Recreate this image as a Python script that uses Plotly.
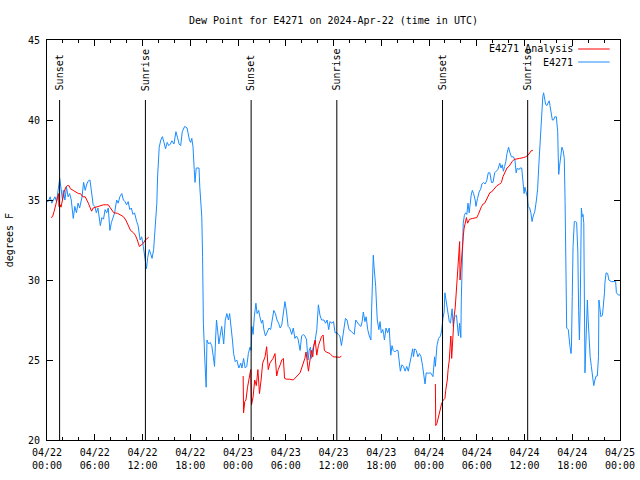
import pandas as pd
import plotly.graph_objects as go

BASE = pd.Timestamp("2024-04-22 00:00")

# E4271 observations: hours since 04/22 00:00 UTC, dew point (F)
obs_hours = [0.0, 0.15, 0.4, 0.6, 1.0, 1.2, 1.6, 1.75, 1.95, 2.05, 2.25, 2.45, 2.65, 2.85, 3.05, 3.3, 3.5, 3.7, 3.9, 4.1,
             4.4, 4.6, 4.8, 5.0, 5.2, 5.4, 5.5, 5.6, 5.8, 6.0, 6.2, 6.4, 6.7, 6.9, 7.1, 7.3, 7.5, 7.7, 7.9, 8.1,
             8.3, 8.5, 8.75, 8.95, 9.15, 9.4, 9.6, 9.8, 10.0, 10.2, 10.4, 10.6, 10.8, 11.0, 11.27, 11.45, 11.7, 11.9, 12.1, 12.3,
             12.5, 12.65, 12.85, 13.05, 13.2, 13.4, 13.65, 13.8, 13.9, 14.1, 14.3, 14.5, 14.7, 14.9, 15.1, 15.3, 15.5, 15.7, 15.95, 16.2,
             16.4, 16.6, 16.8, 17.0, 17.3, 17.6, 17.9, 18.05, 18.2, 18.35, 18.5, 18.6, 18.75, 18.9, 19.1, 19.2, 19.45, 19.55, 19.65, 19.85,
             20.0, 20.1, 20.3, 20.5, 20.7, 20.9, 21.05, 21.2, 21.3, 21.45, 21.6, 21.75, 21.95, 22.2, 22.4, 22.6, 22.8, 22.95, 23.15, 23.3,
             23.45, 23.65, 23.85, 24.1, 24.35, 24.5, 24.7, 24.9, 25.1, 25.3, 25.5, 25.65, 25.75, 25.9, 26.05, 26.25, 26.4, 26.6, 26.75, 26.95,
             27.1, 27.25, 27.45, 27.65, 27.9, 28.1, 28.3, 28.5, 28.7, 28.9, 29.1, 29.3, 29.5, 29.7, 29.9, 30.1, 30.3, 30.5, 30.75, 30.95,
             31.15, 31.35, 31.55, 31.8, 32.0, 32.2, 32.4, 32.6, 32.8, 32.95, 33.1, 33.25, 33.4, 33.7, 33.9, 34.1, 34.3, 34.5, 34.8, 35.0,
             35.2, 35.4, 35.55, 35.8, 36.0, 36.2, 36.45, 36.6, 36.8, 37.0, 37.15, 37.3, 37.5, 37.7, 37.95, 38.2, 38.45, 38.6, 38.8, 39.0,
             39.2, 39.45, 39.6, 39.75, 39.95, 40.1, 40.3, 40.5, 40.7, 40.8, 40.9, 41.0, 41.1, 41.2, 41.3, 41.4, 41.5, 41.7, 41.85, 42.0,
             42.2, 42.3, 42.4, 42.6, 42.8, 43.0, 43.1, 43.2, 43.35, 43.5, 43.7, 43.9, 44.1, 44.25, 44.4, 44.6, 44.8, 45.0, 45.2, 45.4,
             45.6, 45.8, 45.95, 46.05, 46.2, 46.4, 46.6, 46.8, 47.0, 47.2, 47.4, 47.5, 47.65, 47.9, 48.2, 48.5, 48.7, 48.8, 49.0, 49.2,
             49.45, 49.6, 49.75, 49.9, 50.0, 50.15, 50.3, 50.45, 50.55, 50.7, 50.9, 51.05, 51.2, 51.45, 51.7, 51.85, 52.0, 52.06, 52.2, 52.3,
             52.45, 52.6, 52.75, 52.9, 53.05, 53.2, 53.3, 53.45, 53.6, 53.8, 53.9, 54.1, 54.3, 54.5, 54.65, 54.85, 55.05, 55.25, 55.45, 55.65,
             55.85, 56.05, 56.25, 56.45, 56.65, 56.9, 57.05, 57.2, 57.35, 57.5, 57.65, 57.8, 58.0, 58.15, 58.35, 58.6, 58.8, 58.95, 59.1, 59.3,
             59.45, 59.65, 59.85, 59.95, 60.05, 60.2, 60.35, 60.45, 60.65, 60.8, 60.95, 61.1, 61.3, 61.5, 61.65, 61.8, 61.95, 62.05, 62.15, 62.3,
             62.4, 62.5, 62.65, 62.8, 62.95, 63.1, 63.2, 63.35, 63.5, 63.65, 63.8, 64.0, 64.17, 64.25, 64.3, 64.4, 64.55, 64.7, 64.85, 65.0,
             65.1, 65.2, 65.3, 65.5, 65.6, 65.7, 65.85, 65.9, 66.0, 66.1, 66.26, 66.4, 66.55, 66.7, 66.8, 66.9, 67.0, 67.05, 67.15, 67.25,
             67.35, 67.45, 67.5, 67.6, 67.7, 67.8, 67.9, 68.0, 68.1, 68.25, 68.4, 68.55, 68.7, 68.85, 69.0, 69.15, 69.3, 69.35, 69.5, 69.6,
             69.8, 69.95, 70.05, 70.1, 70.25, 70.45, 70.6, 70.9, 71.2, 71.45, 71.55, 71.8, 72.0]
obs_values = [34.9, 34.9, 35.2, 34.8, 35.2, 34.9, 36.35, 35.8, 35.0, 35.6, 35.0, 35.8, 35.2, 35.4, 35.0, 33.85, 34.6, 34.2, 34.8, 34.5,
              35.2, 36.1, 35.6, 36.0, 36.2, 36.25, 35.8, 35.2, 34.7, 34.6, 34.2, 34.5, 33.4, 33.9, 33.8, 34.4, 34.2, 34.5, 33.1, 33.6,
              33.9, 34.2, 35.0, 34.8, 35.2, 35.4, 35.0, 34.9, 34.7, 34.9, 34.4, 34.5, 34.1, 34.2, 33.65, 33.4, 32.5, 32.7, 32.1, 31.45,
              30.7, 31.4, 31.9, 31.6, 31.35, 31.9, 33.4, 34.8, 36.5, 38.3, 38.75, 38.96, 38.6, 38.2, 38.6, 38.4, 38.5, 38.7, 38.5, 39.27,
              38.9, 38.5, 38.4, 39.27, 39.6, 39.5, 38.75, 38.6, 38.85, 38.3, 36.9, 36.1, 37.0, 37.0, 37.0, 35.8, 33.95, 31.45, 27.3, 24.8,
              23.3, 26.25, 26.0, 26.1, 25.9, 25.2, 24.6, 26.5, 27.5, 26.8, 26.0, 26.5, 27.1, 26.0, 27.5, 27.9, 27.5, 27.9, 27.1, 26.25,
              25.4, 24.9, 25.0, 24.5, 24.8, 24.5, 25.1, 24.5, 24.6, 25.4, 25.8, 25.6, 27.1, 26.6, 27.7, 28.55, 27.9, 28.1, 27.7, 27.3,
              27.5, 26.9, 26.5, 26.7, 27.0, 26.9, 27.5, 28.1, 27.9, 27.5, 27.3, 27.0, 27.2, 27.8, 28.65, 28.0, 27.1, 27.0, 26.6, 27.0,
              26.35, 26.5, 26.3, 25.6, 26.5, 26.6, 26.5, 26.3, 25.0, 25.6, 25.8, 25.1, 25.7, 26.25, 26.9, 28.45, 27.8, 27.5, 27.5, 27.3,
              27.5, 26.9, 27.4, 27.3, 27.4, 26.7, 26.7, 26.6, 26.5, 25.9, 26.5, 26.9, 27.6, 27.5, 26.9, 26.8, 26.7, 26.6, 27.5, 27.3,
              27.2, 27.1, 27.4, 28.0, 27.4, 27.7, 26.9, 26.5, 26.25, 28.3, 30.4, 31.55, 30.8, 30.3, 29.6, 28.5, 27.5, 26.9, 27.4, 26.7,
              26.9, 26.6, 26.25, 27.0, 26.7, 27.0, 26.3, 25.3, 25.9, 25.6, 25.5, 25.6, 25.6, 25.0, 24.3, 24.7, 24.6, 24.3, 24.6, 24.3,
              24.8, 25.1, 25.7, 25.2, 25.7, 25.6, 25.2, 25.4, 25.2, 24.6, 23.75, 23.5, 24.2, 24.17, 24.2, 23.96, 25.2, 24.6, 25.9, 26.35,
              26.5, 26.9, 27.6, 28.0, 29.2, 28.75, 28.3, 27.7, 27.4, 27.3, 28.2, 27.1, 27.7, 27.8, 26.5, 27.3, 26.4, 28.75, 31.7, 33.55,
              34.05, 34.2, 34.1, 34.8, 34.2, 35.0, 35.3, 35.6, 35.4, 35.0, 34.6, 35.1, 35.5, 35.7, 36.0, 36.1, 36.0, 36.2, 36.7, 36.7,
              36.1, 36.1, 36.7, 36.8, 36.9, 37.3, 37.0, 37.2, 36.8, 37.1, 37.4, 37.9, 38.3, 38.0, 37.7, 37.7, 37.5, 36.7, 37.0, 36.9,
              37.0, 37.0, 36.0, 35.4, 35.8, 35.5, 35.2, 34.6, 34.5, 34.2, 33.65, 34.0, 34.3, 35.0, 35.7, 37.2, 38.5, 39.8, 40.83, 41.45,
              41.7, 41.3, 41.0, 40.9, 41.1, 41.2, 40.9, 40.3, 40.0, 40.0, 40.2, 40.2, 39.27, 37.5, 36.6, 37.1, 37.6, 38.3, 38.1, 37.6,
              34.9, 29.8, 27.0, 26.9, 26.25, 25.9, 25.4, 25.8, 28.96, 32.1, 33.65, 33.65, 33.6, 31.76, 28.1, 26.25, 28.3, 32.3, 34.5, 33.95,
              34.1, 33.55, 29.6, 24.2, 25.8, 27.9, 28.75, 27.5, 26.5, 25.2, 24.6, 23.75, 23.4, 23.75, 24.0, 24.0, 25.2, 28.75, 28.1, 27.7,
              27.8, 28.55, 29.2, 29.8, 30.45, 30.4, 30.0, 29.9, 29.9, 29.9, 29.2, 29.06, 29.06]

# E4271 analysis (three separate runs; None marks a gap)
ana_hours = [0.5, 0.7, 0.9, 1.1, 1.3, 1.45, 1.5, 1.65, 1.76, 1.95, 2.15, 2.35, 2.55, 2.75, 2.95, 3.3, 3.7, 3.95, 4.2, 4.5,
             4.8, 5.0, 5.2, 5.4, 5.6, 5.8, 6.2, 6.6, 7.1, 7.5, 7.7, 7.9, 8.1, 8.4, 8.85, 9.17, 9.6, 9.9, 10.2, 10.5,
             10.85, 11.1, 11.35, 11.6, 11.9, 12.1, 12.35, 12.6, 12.77, 12.9,
             24.65, 24.7, 24.85, 25.0, 25.2, 25.45, 25.6, 25.7, 25.9, 26.1, 26.3, 26.5, 26.7, 26.9, 27.1, 27.4, 27.6, 27.8, 28.0, 28.4,
             28.65, 28.86, 29.05, 29.3, 29.5, 29.7, 29.85, 30.1, 30.5, 30.95, 31.4, 31.8, 32.0, 32.2, 32.4, 32.55, 32.7, 32.85, 33.05, 33.2,
             33.4, 33.5, 33.7, 33.9, 34.1, 34.3, 34.5, 34.7, 34.85, 35.1, 35.56, 35.95, 36.4, 36.8, 37.0, 37.1,
             48.8, 48.85, 49.0, 49.2, 49.4, 49.6, 49.8, 50.0, 50.1, 50.3, 50.4, 50.55, 50.65, 50.75, 50.85, 50.95, 51.0, 51.15, 51.3, 51.4,
             51.5, 51.65, 51.75, 51.85, 51.9, 52.0, 52.1, 52.2, 52.3, 52.4, 52.55, 52.7, 52.85, 53.0, 53.1, 53.5, 54.0, 54.2, 54.4, 54.6,
             54.8, 55.0, 55.2, 55.45, 55.65, 55.85, 56.25, 56.55, 56.9, 57.1, 57.3, 57.5, 57.7, 57.8, 58.05, 58.25, 58.45, 58.7, 59.1, 59.4,
             59.85, 60.15, 60.45, 60.6, 60.85, 61.05]
ana_values = [33.9, 33.96, 34.3, 34.7, 35.1, 35.4, 34.6, 34.7, 34.55, 35.1, 35.5, 35.8, 35.9, 35.9, 35.7, 35.6, 35.5, 35.4, 35.4, 35.2,
              35.2, 35.04, 34.8, 34.55, 34.3, 34.5, 34.55, 34.6, 34.7, 34.7, 34.7, 34.55, 34.4, 34.2, 34.17, 34.06, 33.96, 33.75, 33.4, 33.1,
              32.96, 32.8, 32.5, 32.1, 32.2, 32.3, 32.5, 32.6, 32.67, None,
              24.0, 21.7, 22.4, 22.5, 23.3, 24.0, 24.4, 22.2, 22.7, 23.75, 23.4, 24.4, 22.9, 23.75, 24.8, 25.2, 25.83, 24.4, 24.8, 25.1,
              25.4, 24.0, 24.4, 24.7, 25.0, 25.1, 23.85, 23.8, 23.8, 23.75, 24.0, 24.2, 24.5, 24.8, 25.1, 25.5, 24.7, 24.3, 25.0, 25.6,
              25.2, 25.8, 26.25, 25.3, 25.9, 26.25, 26.46, 26.56, 25.6, 25.5, 25.4, 25.2, 25.17, 25.17, 25.25, None,
              23.5, 20.9, 21.04, 21.46, 21.9, 22.3, 22.5, 22.6, 23.1, 23.75, 24.4, 25.0, 25.8, 26.5, 25.1, 26.04, 26.8, 27.7, 28.3, 28.96,
              29.8, 30.8, 31.77, 32.4, 30.0, 30.8, 31.45, 31.67, 32.7, 33.2, 33.6, 33.9, 33.55, 33.75, 33.8, 33.85, 33.9, 34.1, 34.4, 34.6,
              34.75, 34.8, 35.0, 35.3, 35.46, 35.5, 35.7, 35.9, 36.0, 36.1, 36.46, 36.67, 36.9, 37.0, 37.1, 37.3, 37.4, 37.54, 37.6, 37.6,
              37.65, 37.7, 37.8, 37.9, 38.08, 38.1]

# Sunset / sunrise times (UTC)
sun_times = ["2024-04-22 01:35", "2024-04-22 12:22", "2024-04-23 01:39",
             "2024-04-23 12:25", "2024-04-24 01:42", "2024-04-24 12:24"]
sun_labels = ["Sunset", "Sunrise", "Sunset", "Sunrise", "Sunset", "Sunrise"]

series_names = ["E4271 Analysis", "E4271"]
series_colors = ["#ff0000", "#1a8cff"]

x_obs = [BASE + pd.Timedelta(hours=h) for h in obs_hours]
x_ana = [BASE + pd.Timedelta(hours=h) for h in ana_hours]

FONT = "DejaVu Sans Mono"

fig = go.Figure()
fig.add_trace(go.Scatter(x=x_obs, y=obs_values, mode="lines", name=series_names[1],
                         line=dict(color=series_colors[1], width=1), showlegend=False))
fig.add_trace(go.Scatter(x=x_ana, y=ana_values, mode="lines", name=series_names[0],
                         line=dict(color=series_colors[0], width=1), connectgaps=False, showlegend=False))

shapes = []
annotations = []
for t, lab in zip(sun_times, sun_labels):
    shapes.append(dict(type="line", xref="x", yref="paper", x0=t, x1=t, y0=0, y1=0.85,
                       line=dict(color="black", width=1)))
    annotations.append(dict(x=t, y=0.868, xref="x", yref="paper", text=lab, textangle=-90,
                            showarrow=False, xanchor="center", yanchor="bottom",
                            font=dict(family=FONT, size=10, color="black")))

# manual gnuplot-style key (text then line sample)
key_y = [0.9775, 0.945]
for name, col, yk in zip(series_names, series_colors, key_y):
    annotations.append(dict(x=0.921, y=yk, xref="paper", yref="paper", text=name, showarrow=False,
                            xanchor="right", yanchor="middle", font=dict(family=FONT, size=10, color="black")))
    shapes.append(dict(type="line", xref="paper", yref="paper", x0=0.927, x1=0.982, y0=yk, y1=yk,
                       line=dict(color=col, width=1)))

annotations.append(dict(x=-0.066, y=0.5, xref="paper", yref="paper", text="degrees F", textangle=-90,
                        showarrow=False, xanchor="center", yanchor="middle",
                        font=dict(family=FONT, size=10, color="black")))

fig.update_layout(
    width=640, height=480, autosize=False,
    margin=dict(l=47, r=20, t=40, b=40, autoexpand=False),
    paper_bgcolor="white", plot_bgcolor="white",
    font=dict(family=FONT, size=10, color="black"),
    title=dict(text="Dew Point for E4271 on 2024-Apr-22 (time in UTC)", x=0.5, xref="paper",
               y=0.958, yref="container", yanchor="middle", font=dict(family=FONT, size=10, color="black")),
    shapes=shapes, annotations=annotations,
)
fig.update_xaxes(type="date", range=["2024-04-22 00:00", "2024-04-25 00:00"], automargin=False,
                 dtick=6 * 3600 * 1000, tick0="2024-04-22 00:00", tickformat="%m/%d<br>%H:%M",
                 ticks="inside", ticklen=6, tickcolor="black", mirror="allticks", ticklabelstandoff=3,
                 showline=True, linecolor="black", linewidth=1, showgrid=False, zeroline=False,
                 minor=dict(dtick=2 * 3600 * 1000, ticks="inside", ticklen=3, tickcolor="black", showgrid=False),
                 tickfont=dict(family=FONT, size=10, color="black"))
fig.update_yaxes(range=[20, 45], dtick=5, ticks="inside", ticklen=6, tickcolor="black", mirror="allticks",
                 automargin=False, ticklabelstandoff=4,
                 showline=True, linecolor="black", linewidth=1, showgrid=False, zeroline=False,
                 tickfont=dict(family=FONT, size=10, color="black"))

fig.write_html("out.html", config={"displayModeBar": False},
               post_script="document.body.style.margin='0';document.body.style.padding='0';")
